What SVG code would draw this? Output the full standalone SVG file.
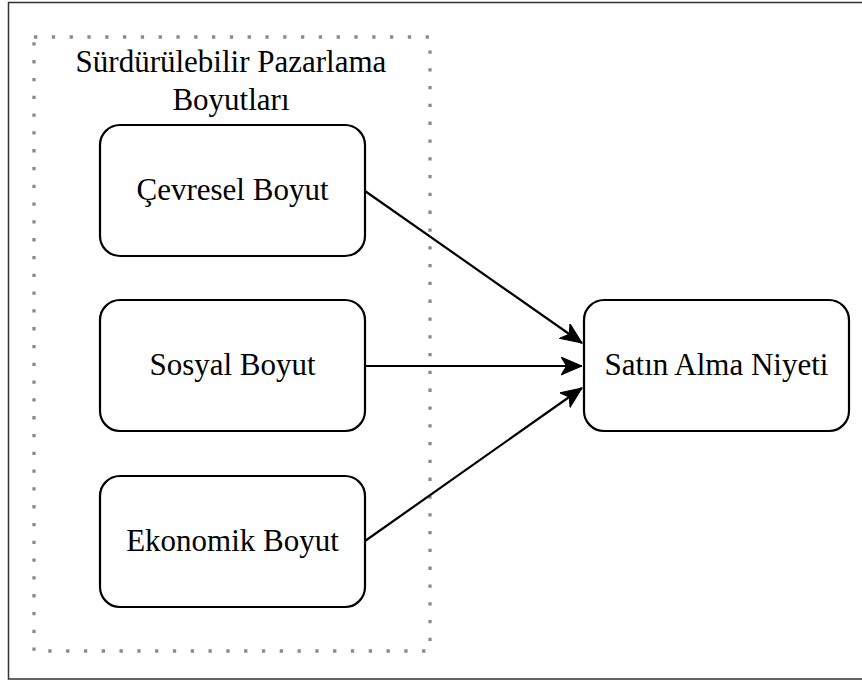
<svg xmlns="http://www.w3.org/2000/svg" width="862" height="682" viewBox="0 0 862 682">
<style>
.box{fill:#fff;stroke:#000;stroke-width:2.2}
.lbl{font-family:"Liberation Serif","Times New Roman",serif;font-size:31px;fill:#000;text-anchor:middle}
.edge{fill:none;stroke:#000;stroke-width:2.2}
.dots{fill:none;stroke:#8a8a8a;stroke-width:3.3;stroke-dasharray:3.3 14.5}
</style>
<defs>
<marker id="arr" markerUnits="userSpaceOnUse" markerWidth="24" markerHeight="20" refX="21" refY="9" orient="auto" viewBox="0 0 24 20">
<path d="M0,0 L21,9 L0,18 L5.5,9 z" fill="#000" stroke="#000" stroke-width="1" stroke-linejoin="miter"/>
</marker>
</defs>
<rect width="862" height="682" fill="#fff"/>
<rect x="8.5" y="2.5" width="870" height="676.5" fill="none" stroke="#333" stroke-width="1.5"/>
<g id="group-sustainable">
<rect class="dots" x="34" y="37" width="396" height="614"/>
<text class="lbl" x="231" y="72">Sürdürülebilir Pazarlama</text>
<text class="lbl" x="231" y="110">Boyutları</text>
</g>
<g id="node-cevresel">
<rect class="box" x="100" y="125" width="265" height="131" rx="20"/>
<text class="lbl" x="232.5" y="200">Çevresel Boyut</text>
</g>
<g id="node-sosyal">
<rect class="box" x="100" y="300" width="265" height="131" rx="20"/>
<text class="lbl" x="232.5" y="375">Sosyal Boyut</text>
</g>
<g id="node-ekonomik">
<rect class="box" x="100" y="476" width="265" height="131" rx="20"/>
<text class="lbl" x="232.5" y="551">Ekonomik Boyut</text>
</g>
<g id="node-satin">
<rect class="box" x="584" y="300" width="265" height="131" rx="20"/>
<text class="lbl" x="716.5" y="375">Satın Alma Niyeti</text>
</g>
<g id="connectors">
<line class="edge" x1="365" y1="191" x2="582" y2="343" marker-end="url(#arr)"/>
<line class="edge" x1="365" y1="366" x2="582" y2="366" marker-end="url(#arr)"/>
<line class="edge" x1="365" y1="541" x2="582" y2="388" marker-end="url(#arr)"/>
</g>
</svg>
